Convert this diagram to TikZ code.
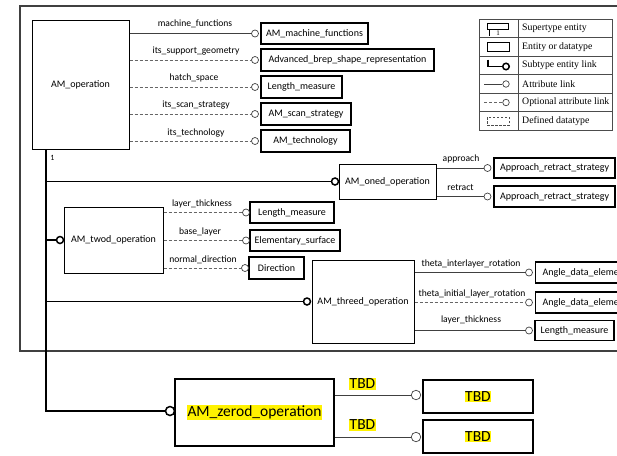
\documentclass[tikz,border=0pt]{standalone}
\usepackage{fontspec}
\setmainfont{Carlito}
\newfontfamily\legfont{Liberation Serif}
\begin{document}
\begin{tikzpicture}[x=1pt,y=-1pt,
  ent/.style={draw=black, line width=1pt, inner sep=0pt, font=\fontsize{10}{11}\selectfont},
  att/.style={draw=black, line width=1.3pt, inner sep=0pt, font=\fontsize{10}{11}\selectfont},
  lbl/.style={inner sep=0pt, font=\fontsize{9.6}{10}\selectfont},
  ocirc/.style={circle, draw=black!75, fill=white, line width=0.7pt, minimum size=7pt, inner sep=0pt},
  scirc/.style={circle, draw=black, fill=white, line width=1.5pt, minimum size=7pt, inner sep=0pt},
  aline/.style={draw=black!75, line width=0.8pt},
  dline/.style={draw=black!60, line width=0.8pt, dash pattern=on 3pt off 2pt},
  subl/.style={draw=black, line width=1.2pt},
  bus/.style={draw=black, line width=2pt},
  legtxt/.style={anchor=west, inner sep=0pt, font=\legfont\fontsize{9.8}{11}\selectfont},
  legline/.style={draw=black!70, line width=0.6pt},
  big/.style={font=\fontsize{15.5}{17}\selectfont},
  hl/.style={fill=yellow, inner sep=0.6pt},
]
\useasboundingbox (0,0) rectangle (617,455);
\clip (0,0) rectangle (617,455);
\setlength{\fboxsep}{0.6pt}

% outer frame
\draw[draw=black!75, line width=1.2pt] (20,6) rectangle (640,351);

% AM_operation and its attributes
\node[ent, minimum width=97pt, minimum height=129pt] (op) at (80.5,84.5) {AM\_operation};

\node[att, minimum width=107pt, minimum height=21pt] (a1) at (314.5,33.5) {AM\_machine\_functions};
\node[att, minimum width=173pt, minimum height=22pt] (a2) at (347.5,60) {Advanced\_brep\_shape\_representation};
\node[att, minimum width=81pt, minimum height=22pt] (a3) at (301.5,87) {Length\_measure};
\node[att, minimum width=90pt, minimum height=22pt] (a4) at (306,114) {AM\_scan\_strategy};
\node[att, minimum width=89pt, minimum height=22pt] (a5) at (305.5,141) {AM\_technology};

\node[ocirc] (c1) at (255,33.5) {};
\node[ocirc] (c2) at (255,60) {};
\node[ocirc] (c3) at (255,87) {};
\node[ocirc] (c4) at (255,114) {};
\node[ocirc] (c5) at (255,141) {};

\draw[aline] (op.east |- c1) -- (c1.west);
\draw[dline] (op.east |- c2) -- (c2.west);
\draw[dline] (op.east |- c3) -- (c3.west);
\draw[dline] (op.east |- c4) -- (c4.west);
\draw[dline] (op.east |- c5) -- (c5.west);

\node[lbl] (l1) at (195,23.5) {machine\_functions};
\node[lbl] (l2) at (196,51) {its\_support\_geometry};
\node[lbl] (l3) at (194,78) {hatch\_space};
\node[lbl] (l4) at (196,105.5) {its\_scan\_strategy};
\node[lbl] (l5) at (196,132.5) {its\_technology};

% legend
\draw[legline] (479,19) rectangle (612,130);
\foreach \yy in {37.5,56,74.5,93,111.5} {\draw[legline] (479,\yy) -- (612,\yy);}
\draw[legline] (518,19) -- (518,130);
\node[legtxt] (t1) at (522,28.2) {Supertype entity};
\node[legtxt] (t2) at (522,46.7) {Entity or datatype};
\node[legtxt] (t3) at (522,65.2) {Subtype entity link};
\node[legtxt] (t4) at (522,83.7) {Attribute link};
\node[legtxt] (t5) at (522,102.2) {Optional attribute link};
\node[legtxt] (t6) at (522,120.7) {Defined datatype};
% legend icons
\draw[black, line width=1pt] (487,23) rectangle (508,29.5);
\draw[black, line width=0.8pt] (489,29.5) -- (489,35.5);
\node[inner sep=0pt, font=\legfont\fontsize{7}{7}\selectfont] (one1) at (498,33.5) {1};
\draw[black, line width=1pt] (487,42) rectangle (509,51);
\node[scirc, minimum size=6.5pt] (lc3) at (506,66.5) {};
\draw[black, line width=1.5pt] (488,59.5) -- (488,66.5) -- (lc3.west);
\node[ocirc, minimum size=6.5pt] (lc4) at (506,84) {};
\draw[aline] (484,84) -- (lc4.west);
\node[ocirc, minimum size=6.5pt] (lc5) at (506,102.5) {};
\draw[dline] (484,102.5) -- (lc5.west);
\draw[black!70, line width=0.7pt, dash pattern=on 2.5pt off 1.5pt] (487,117) rectangle (509,125);

% bus
\node[inner sep=0pt, font=\fontsize{8}{8}\selectfont] (n1) at (52.5,158) {1};
\node[scirc, minimum size=9pt] (zc) at (170,411) {};
\coordinate (busbot) at (46,411);
\draw[bus] (op.south -| busbot) -- (busbot) -- (zc.west);

% AM_oned_operation
\node[ent, minimum width=97pt, minimum height=35pt] (oned) at (387.5,181.5) {AM\_oned\_operation};
\node[scirc] (oc) at (335,181.5) {};
\draw[subl] (busbot |- oc) -- (oc.west);
\node[att, minimum width=121pt, minimum height=20pt] (o1) at (554.5,168) {Approach\_retract\_strategy};
\node[att, minimum width=121pt, minimum height=21pt] (o2) at (554.5,196.5) {Approach\_retract\_strategy};
\node[ocirc] (oc1) at (487.5,168) {};
\node[ocirc] (oc2) at (487.5,196.5) {};
\draw[aline] (oned.east |- oc1) -- (oc1.west);
\draw[aline] (oned.east |- oc2) -- (oc2.west);
\node[lbl] (ol1) at (461,159) {approach};
\node[lbl] (ol2) at (460.5,187.5) {retract};

% AM_twod_operation
\node[ent, minimum width=99pt, minimum height=66pt] (twod) at (113.5,240) {AM\_twod\_operation};
\node[scirc] (tc) at (60,240) {};
\draw[subl] (busbot |- tc) -- (tc.west);
\node[att, minimum width=84pt, minimum height=21pt] (w1) at (292,212.5) {Length\_measure};
\node[att, minimum width=90pt, minimum height=21pt] (w2) at (295,240.5) {Elementary\_surface};
\node[att, minimum width=55pt, minimum height=22pt] (w3) at (276.5,268) {Direction};
\node[ocirc] (wc1) at (246,212.5) {};
\node[ocirc] (wc2) at (246,240.5) {};
\node[ocirc] (wc3) at (245,268) {};
\draw[dline] (twod.east |- wc1) -- (wc1.west);
\draw[dline] (twod.east |- wc2) -- (wc2.west);
\draw[dline] (twod.east |- wc3) -- (wc3.west);
\node[lbl] (wl1) at (202,204) {layer\_thickness};
\node[lbl] (wl2) at (200,232) {base\_layer};
\node[lbl] (wl3) at (203,259.5) {normal\_direction};

% AM_threed_operation
\node[ent, minimum width=102pt, minimum height=83pt] (three) at (363,301.5) {AM\_threed\_operation};
\node[scirc] (hc) at (307,301.5) {};
\draw[subl] (busbot |- hc) -- (hc.west);
\node[att, anchor=west, minimum height=21pt, inner xsep=7pt, text width=100pt] (h1) at (535,272.5) {Angle\_data\_element};
\node[att, anchor=west, minimum height=21pt, inner xsep=7pt, text width=100pt] (h2) at (535,302.5) {Angle\_data\_element};
\node[att, minimum width=79pt, minimum height=20pt] (h3) at (574.5,330.5) {Length\_measure};
\node[ocirc] (hc1) at (529,272.5) {};
\node[ocirc] (hc2) at (529,302.5) {};
\node[ocirc] (hc3) at (529,330.5) {};
\draw[aline] (three.east |- hc1) -- (hc1.west);
\draw[dline] (three.east |- hc2) -- (hc2.west);
\draw[aline] (three.east |- hc3) -- (hc3.west);
\node[lbl] (hl1) at (471,263.5) {theta\_interlayer\_rotation};
\node[lbl] (hl2) at (472,293.5) {theta\_initial\_layer\_rotation};
\node[lbl] (hl3) at (471,320) {layer\_thickness};

% AM_zerod_operation
\node[ent, line width=2pt, big, minimum width=159pt, minimum height=67pt] (zero) at (254.5,412.5) {\colorbox{yellow}{AM\_zerod\_operation}};
\node[att, line width=2pt, big, minimum width=110pt, minimum height=33pt] (z1) at (478,396.5) {\colorbox{yellow}{TBD}};
\node[att, line width=2pt, big, minimum width=110pt, minimum height=33pt] (z2) at (478,436.5) {\colorbox{yellow}{TBD}};
\node[ocirc, minimum size=9.5pt] (zc1) at (416,395) {};
\node[ocirc, minimum size=9.5pt] (zc2) at (416,437) {};
\draw[aline, line width=1pt] (zero.east |- zc1) -- (zc1.west);
\draw[aline, line width=1pt] (zero.east |- zc2) -- (zc2.west);
\node[hl, big] (zl1) at (362.5,384) {TBD};
\node[hl, big] (zl2) at (362.5,425) {TBD};
\end{tikzpicture}
\end{document}
